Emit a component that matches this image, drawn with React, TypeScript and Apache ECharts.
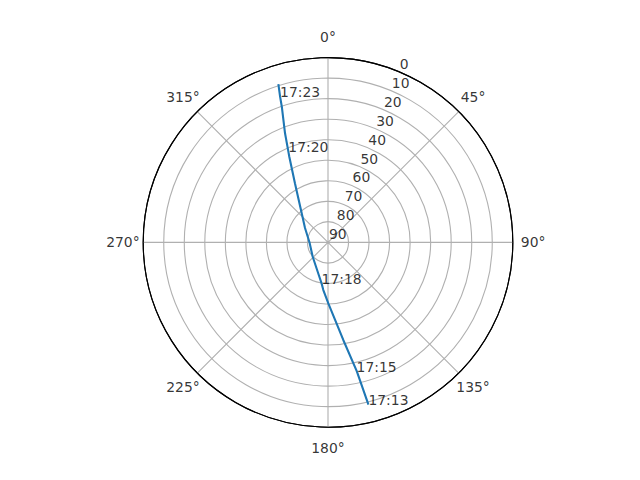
import React, { useRef, useEffect } from 'react';
import * as echarts from 'echarts';

// satellite pass, elevation (deg) / azimuth (deg, clockwise from north)
const trackElev = [8.6, 25.8, 41.9, 60.3, 66.7, 69.8, 73.5, 79.8, 81.0, 76.8, 70.9, 57.0, 44.2, 41.5, 32.9, 20.2, 15.3, 9.2];
const trackAz = [166.0, 167.4, 171.1, 179.7, 185.6, 188.9, 195.8, 226.9, 269.7, 302.0, 317.9, 330.8, 335.7, 336.5, 338.5, 341.2, 341.8, 342.6];

const timeLabels = ['17:13', '17:15', '17:18', '17:20', '17:23'];
const timeElev = [8.6, 25.6, 69.8, 41.5, 15.3];
const timeAz = [166.0, 167.5, 188.9, 336.5, 341.8];

const angleTicks = [0, 45, 90, 135, 180, 225, 270, 315];
const elevTicks = [0, 10, 20, 30, 40, 50, 60, 70, 80, 90];
const elevLabelAngle = 22.5;

const FONT = 'DejaVu Sans';
const GRID = '#b0b0b0';

export default function App() {
  const ref = useRef<HTMLDivElement>(null);

  useEffect(() => {
    document.body.style.margin = '0';
    if (!ref.current) return;
    const chart = echarts.init(ref.current, undefined, { renderer: 'svg' });

    const labelGap = 20.3;
    const textStyle = {
      color: '#000',
      fontFamily: FONT,
      fontSize: 13.9,
      textBorderWidth: 0,
      textShadowBlur: 0,
    };

    chart.setOption({
      animation: false,
      backgroundColor: '#fff',
      polar: { center: [328, 242.4], radius: 184.8 },
      angleAxis: {
        type: 'value',
        min: 0,
        max: 360,
        interval: 45,
        startAngle: 90,
        clockwise: true,
        axisLine: { show: true, lineStyle: { color: '#000', width: 1.1 } },
        axisTick: { show: false },
        axisLabel: { show: false },
        splitLine: { show: true, lineStyle: { color: GRID, width: 1.1 } },
      },
      radiusAxis: {
        type: 'value',
        min: 0,
        max: 90,
        interval: 10,
        inverse: true,
        axisLine: { show: false },
        axisTick: { show: false },
        axisLabel: { show: false },
        splitLine: {
          show: true,
          lineStyle: { color: elevTicks.map((_, i) => (i === 0 ? '#000' : GRID)), width: 1.1 },
        },
      },
      series: [
        {
          type: 'line',
          coordinateSystem: 'polar',
          data: trackElev.map((e, i) => [e, trackAz[i]]),
          showSymbol: false,
          symbol: 'none',
          lineStyle: { color: '#1f77b4', width: 2.1 },
          z: 3,
        },
        {
          // time annotations, text baseline at the point
          type: 'scatter',
          coordinateSystem: 'polar',
          symbolSize: 0.1,
          itemStyle: { color: 'transparent' },
          data: timeLabels.map((t, i) => ({ value: [timeElev[i], timeAz[i]], name: t })),
          label: {
            show: true,
            position: 'inside',
            align: 'left',
            verticalAlign: 'bottom',
            offset: [0, 2.5],
            formatter: (p: any) => p.name,
            ...textStyle,
          },
          z: 4,
        },
        {
          // elevation tick labels
          type: 'scatter',
          coordinateSystem: 'polar',
          symbolSize: 0.1,
          itemStyle: { color: 'transparent' },
          data: elevTicks.map((e) => ({ value: [e, elevLabelAngle], name: String(e) })),
          label: {
            show: true,
            position: 'inside',
            align: 'left',
            verticalAlign: 'bottom',
            offset: [1, -1],
            formatter: (p: any) => p.name,
            ...textStyle,
          },
          z: 4,
        },
        {
          // azimuth tick labels
          type: 'scatter',
          coordinateSystem: 'polar',
          symbolSize: 0.1,
          itemStyle: { color: 'transparent' },
          data: angleTicks.map((a) => {
            const rad = (a * Math.PI) / 180;
            return {
              value: [0, a],
              name: a + '°',
              label: { offset: [Math.sin(rad) * labelGap, -Math.cos(rad) * labelGap] },
            };
          }),
          label: {
            show: true,
            position: 'inside',
            align: 'center',
            verticalAlign: 'middle',
            formatter: (p: any) => p.name,
            ...textStyle,
          },
          z: 4,
        },
      ],
    });

    return () => chart.dispose();
  }, []);

  return <div ref={ref} style={{ width: 640, height: 480 }} />;
}
